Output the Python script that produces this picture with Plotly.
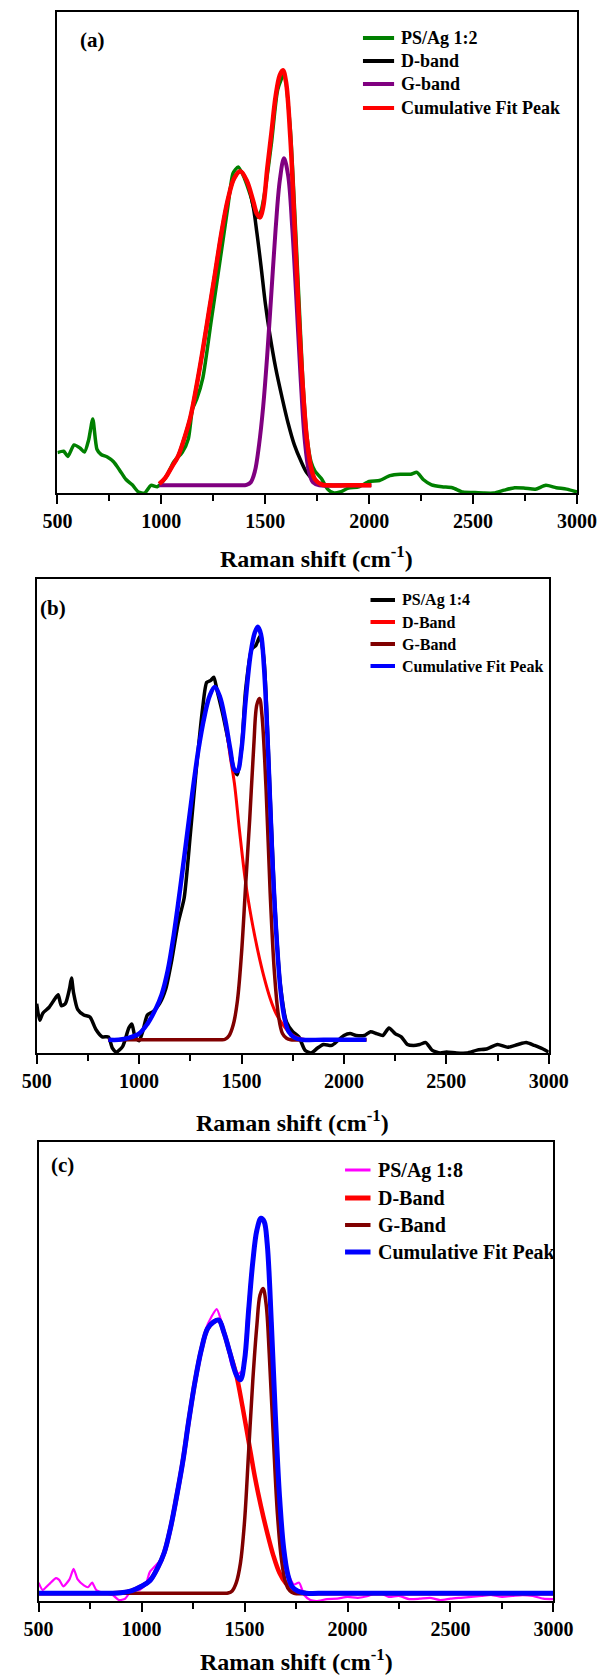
import plotly.graph_objects as go

W, H = 614, 1676
FONT = "Liberation Serif"

# ---------------- Panel (a) ----------------
a_raw_x = [500, 530, 550, 580, 610, 630, 650, 670, 690, 710, 740, 770, 800, 830, 860, 890, 920, 950, 980,
           1000, 1030, 1060, 1100, 1130, 1150, 1170, 1200, 1240, 1280, 1320, 1345, 1370, 1400, 1430, 1460,
           1480, 1500, 1530, 1560, 1590, 1620, 1640, 1660, 1680, 1700, 1720, 1740, 1770, 1800, 1830, 1860,
           1900, 1950, 2000, 2050, 2100, 2150, 2200, 2230, 2260, 2300, 2350, 2400, 2450, 2500, 2550, 2600,
           2650, 2700, 2750, 2800, 2850, 2900, 2950, 3000]
a_raw_y = [8.4, 8.7, 7.6, 10, 9.3, 8.5, 11, 15.4, 9.1, 8, 7.5, 6.5, 4.7, 2.8, 1.7, 0.2, 0, 1.6, 1.3,
           2, 3.9, 6.5, 8.4, 11.3, 17.5, 19.5, 24, 35.8, 47.6, 59.5, 66.5, 67.8, 65.4, 61.7, 57.3,
           58.7, 63.2, 72.8, 83.9, 87, 76, 60, 42, 24, 12, 6.5, 4.5, 3, 0.8, 0, 0.2,
           1, 1.3, 2.4, 2.6, 3.6, 3.9, 3.9, 4.3, 2.8, 1.7, 1.3, 1.1, 0.2, 0.1, 0, 0,
           0.6, 1.1, 1, 0.8, 1.6, 1.1, 0.8, 0.2]

a_D_x = [990, 1020, 1050, 1080, 1110, 1140, 1170, 1200, 1230, 1260, 1290, 1320, 1350, 1380, 1410, 1440,
         1460, 1480, 1500, 1520, 1550, 1580, 1610, 1640, 1670, 1700, 1730, 1760, 1800, 1900, 2010]
a_D_y = [1.9, 3.2, 5.4, 7.6, 11.3, 15.8, 22.4, 29.9, 38, 46.1, 54.3, 61, 65.4, 66.9, 65, 60,
         54, 47, 39.5, 33.5, 26, 20, 14.5, 10, 6.8, 4.2, 2.8, 2, 1.6, 1.6, 1.6]

a_G_x = [990, 1100, 1200, 1300, 1380, 1410, 1430, 1450, 1470, 1490, 1510, 1530, 1550, 1570, 1590, 1610,
         1630, 1650, 1670, 1690, 1710, 1730, 1760, 1850, 2010]
a_G_y = [1.6, 1.6, 1.6, 1.6, 1.6, 1.7, 2.2, 4.5, 10, 18, 29, 42, 55, 65, 69.6, 66,
         55, 40, 24, 11, 4.5, 2.2, 1.6, 1.6, 1.6]

a_C_x = [990, 1020, 1050, 1080, 1110, 1140, 1170, 1200, 1230, 1260, 1290, 1320, 1350, 1380, 1410, 1440,
         1460, 1475, 1490, 1510, 1530, 1550, 1570, 1585, 1600, 1620, 1640, 1660, 1680, 1700, 1720, 1740,
         1770, 1800, 1900, 2010]
a_C_y = [1.9, 3.2, 5.4, 7.6, 11.3, 15.8, 22.4, 29.9, 38, 46.1, 54.3, 61, 65.4, 66.9, 65, 61,
         58, 57.3, 59.5, 67.6, 75, 82.5, 86.9, 87.9, 85.4, 74.3, 56.6, 38, 22.4, 11.3, 5.4, 2.8,
         1.8, 1.6, 1.6, 1.6]

# ---------------- Panel (b) ----------------
b_raw_x = [500, 515, 530, 560, 590, 605, 620, 640, 660, 670, 680, 700, 730, 760, 790, 820, 850, 870, 890,
           920, 950, 965, 980, 1000, 1020, 1040, 1070, 1100, 1130, 1160, 1190, 1220, 1250, 1280, 1310,
           1330, 1350, 1365, 1380, 1410, 1440, 1465, 1480, 1500, 1520, 1550, 1570, 1590, 1610, 1630,
           1660, 1690, 1720, 1750, 1780, 1810, 1840, 1870, 1900, 1940, 1970, 2000, 2030, 2060, 2100,
           2130, 2160, 2190, 2220, 2250, 2280, 2310, 2340, 2370, 2400, 2430, 2470, 2500, 2550, 2600,
           2650, 2700, 2750, 2800, 2850, 2890, 2930, 2970, 3000]
b_raw_y = [10.4, 6.9, 8.4, 9.6, 11.5, 12.3, 10, 10.4, 13.5, 15.8, 12.7, 9.2, 8, 7.6, 4.9, 3.4, 3.4, 1, 0.2,
           1.4, 5.3, 6.1, 3.4, 2.6, 4.9, 8, 8.8, 10.4, 13.5, 19.7, 27.3, 32.7, 46, 60.2, 72.7,
           78.2, 78.6, 79.3, 76.6, 71.2, 64.9, 59.5, 58.7, 64.1, 76.6, 85.2, 86, 87.9, 82.9, 64.9,
           33.7, 14.3, 6.5, 4.5, 3.4, 0.6, 0, 1, 1.8, 1.6, 2.6, 3.7, 4.1, 3.7, 3.7,
           4.5, 4.1, 3.7, 5.3, 4.1, 3.4, 1.8, 1.6, 1.8, 2.2, 0.6, 0, 0.2, 0, 0,
           0.6, 0.9, 1.8, 1.2, 1.8, 2.2, 1.6, 0.9, 0.2]

b_D_x = [850, 900, 950, 1000, 1040, 1080, 1110, 1140, 1170, 1200, 1230, 1260, 1290, 1320, 1345, 1370,
         1395, 1420, 1445, 1465, 1490, 1520, 1550, 1580, 1610, 1640, 1670, 1700, 1730, 1760, 1800, 1900, 2110]
b_D_y = [2.8, 2.8, 3.2, 4.1, 6.1, 9.2, 12.3, 17.4, 25.1, 34.5, 44.6, 54.8, 64.1, 71.2, 75.4, 77.2,
         75.1, 70, 62.5, 57, 47, 36, 28, 21.5, 16, 11.5, 8.2, 6.1, 4.5, 3.5, 2.9, 2.8, 2.8]

b_G_x = [850, 1000, 1200, 1350, 1400, 1420, 1440, 1460, 1480, 1500, 1520, 1540, 1560, 1575, 1588, 1600,
         1620, 1640, 1660, 1680, 1700, 1720, 1740, 1900, 2110]
b_G_y = [2.8, 2.8, 2.8, 2.8, 2.8, 2.9, 3.7, 6, 11, 21, 35.3, 49.3, 64.9, 73.5, 74.8, 71.2,
         55.6, 33.7, 17.4, 8, 4.1, 3.1, 2.8, 2.8, 2.8]

b_C_x = [850, 900, 950, 1000, 1040, 1080, 1110, 1140, 1170, 1200, 1230, 1260, 1290, 1320, 1345, 1370,
         1395, 1420, 1445, 1465, 1480, 1500, 1520, 1545, 1565, 1580, 1595, 1610, 1630, 1650, 1670, 1690,
         1710, 1730, 1760, 1800, 1900, 2110]
b_C_y = [2.8, 2.8, 3.2, 4.1, 6.1, 9.2, 12.3, 17.4, 25.1, 34.5, 44.6, 54.8, 64.1, 71.2, 75.4, 77.2,
         75.1, 70.4, 64.1, 59.8, 59.5, 64.1, 74.3, 84.4, 88.7, 89.9, 88.3, 81.3, 63.4, 41.6, 25.1, 13.5,
         7.3, 4.5, 3.2, 2.8, 2.8, 2.8]

# ---------------- Panel (c) ----------------
c_raw_x = [500, 520, 550, 585, 600, 620, 650, 670, 690, 720, 740, 760, 780, 820, 860, 890, 920, 950, 990,
           1020, 1040, 1070, 1100, 1130, 1160, 1190, 1220, 1250, 1280, 1310, 1340, 1365, 1385, 1410, 1440,
           1465, 1490, 1510, 1530, 1555, 1575, 1590, 1605, 1625, 1650, 1670, 1690, 1710, 1740, 1765, 1790,
           1820, 1850, 1900, 1950, 2000, 2050, 2100, 2150, 2200, 2250, 2300, 2350, 2400, 2450, 2500, 2550,
           2600, 2650, 2700, 2750, 2800, 2850, 2900, 2950, 3000]
c_raw_y = [4, 2.4, 3.6, 5, 4.6, 3.2, 4.7, 7, 4.7, 3.4, 3, 4, 2.4, 1.7, 1.3, 0.2, 0.5, 2.2, 2.4,
           3.6, 6.3, 7.8, 9.3, 14.3, 20.4, 27.3, 35.7, 44.9, 52.5, 59, 62, 63.6, 61.3, 57, 51,
           49.5, 50.2, 60.2, 70.8, 80, 82.7, 83.1, 79.4, 63.4, 38.3, 21.5, 11.5, 6.2, 3.6, 4, 1.3,
           0.2, 0, 0.4, 0.5, 0.9, 0.7, 1.1, 1.9, 0.9, 1.1, 0.4, 0.5, 0.7, 0.2, 0.5, 0.7,
           0.9, 1.1, 1.3, 0.9, 1.1, 1.3, 1.1, 0.5, 0.4]

c_D_x = [500, 700, 850, 900, 950, 1000, 1040, 1080, 1110, 1140, 1170, 1200, 1230, 1260, 1290, 1320,
         1350, 1375, 1400, 1430, 1460, 1490, 1520, 1550, 1580, 1610, 1640, 1670, 1700, 1730, 1760,
         1800, 1900, 2200, 2600, 3000]
c_D_y = [1.7, 1.7, 1.7, 1.8, 2.2, 3.2, 4.4, 7.4, 10.5, 15.8, 22.7, 30.3, 39.5, 47.9, 54.7, 59.3,
         60.8, 61.2, 58.5, 53.9, 49.3, 42.4, 34.8, 27.1, 20.6, 14.9, 9.9, 6.1, 3.9, 2.7, 2.1,
         1.7, 1.7, 1.7, 1.7, 1.7]

c_G_x = [500, 900, 1200, 1350, 1400, 1420, 1440, 1460, 1480, 1500, 1520, 1540, 1560, 1575, 1590, 1605,
         1620, 1640, 1660, 1680, 1700, 1720, 1740, 1850, 2200, 2600, 3000]
c_G_y = [1.7, 1.7, 1.7, 1.7, 1.7, 1.75, 2.2, 4, 8.2, 17.3, 32.6, 47.9, 60.1, 66.6, 68.1, 64.6,
         53.9, 35.6, 18.8, 8.8, 3.9, 2.2, 1.7, 1.7, 1.7, 1.7, 1.7]

c_C_x = [500, 700, 850, 900, 950, 1000, 1040, 1080, 1110, 1140, 1170, 1200, 1230, 1260, 1290, 1320,
         1350, 1375, 1400, 1430, 1460, 1480, 1500, 1520, 1540, 1560, 1580, 1595, 1610, 1630, 1650, 1670,
         1690, 1710, 1730, 1760, 1800, 1900, 2200, 2600, 3000]
c_C_y = [1.7, 1.7, 1.7, 1.8, 2.2, 3.2, 4.4, 7.4, 10.5, 15.8, 22.7, 30.3, 39.5, 47.9, 54.7, 59.3,
         60.8, 61.2, 58.5, 53.9, 49.3, 48.2, 52.4, 63.4, 73.8, 80.8, 83.4, 82.7, 77.9, 60.8, 40.2, 22.7,
         11.5, 5.8, 3.2, 2.1, 1.7, 1.7, 1.7, 1.7, 1.7]

x_range = [500, 3000]
y_range = [0, 100]
x_tick_vals = [500, 1000, 1500, 2000, 2500, 3000]
x_tick_text = ["500", "1000", "1500", "2000", "2500", "3000"]
x_title = "Raman shift (cm<sup>-1</sup>)"


def px_x(p):
    return p / W


def px_y(p):
    return 1 - p / H


panels = [
    dict(box=(45, 596, 12, 493), label="(a)", label_pos=(82, 40), title_pos=(320, 557),
         legend=dict(x0=369, x1=402, tx=407, rows=[38, 61, 84, 108], size=18),
         traces=[("PS/Ag 1:2", a_raw_x, a_raw_y, "#008000", 3.5, 0.6, 4),
                 ("D-band", a_D_x, a_D_y, "#000000", 3.5, 1.0, 4),
                 ("G-band", a_G_x, a_G_y, "#800080", 4, 1.0, 4),
                 ("Cumulative Fit Peak", a_C_x, a_C_y, "#FF0000", 4.5, 1.0, 4)]),
    dict(box=(23, 566, 579, 1053), label="(b)", label_pos=(40, 608), title_pos=(294, 1121),
         legend=dict(x0=377, x1=403, tx=408, rows=[600, 622, 644, 666], size=16),
         traces=[("PS/Ag 1:4", b_raw_x, b_raw_y, "#000000", 3.5, 0.6, 4),
                 ("D-Band", b_D_x, b_D_y, "#FF0000", 3, 1.0, 4),
                 ("G-Band", b_G_x, b_G_y, "#800000", 3.5, 1.0, 4),
                 ("Cumulative Fit Peak", b_C_x, b_C_y, "#0000FF", 4.5, 1.0, 4)]),
    dict(box=(25, 571, 1142, 1601), label="(c)", label_pos=(50, 1165), title_pos=(298, 1660),
         legend=dict(x0=350, x1=377, tx=383, rows=[1170, 1198, 1225, 1252], size=20),
         traces=[("PS/Ag 1:8", c_raw_x, c_raw_y, "#FF00FF", 2.2, 0.6, 3),
                 ("D-Band", c_D_x, c_D_y, "#FF0000", 4.5, 1.0, 5),
                 ("G-Band", c_G_x, c_G_y, "#800000", 3.5, 1.0, 4),
                 ("Cumulative Fit Peak", c_C_x, c_C_y, "#0000FF", 5, 1.0, 5)]),
]

fig = go.Figure()
layout = dict(width=W, height=H, margin=dict(l=0, r=0, t=0, b=0),
              paper_bgcolor="white", plot_bgcolor="white", showlegend=False,
              font=dict(family=FONT, color="black"))
annotations = []
shapes = []

for i, p in enumerate(panels):
    n = "" if i == 0 else str(i + 1)
    xa, ya = "x" + n, "y" + n
    for (nm, xs, ys, col, lw, sm, _) in p["traces"]:
        fig.add_trace(go.Scatter(x=xs, y=ys, mode="lines", name=nm, xaxis=xa, yaxis=ya,
                                 line=dict(color=col, width=lw, shape="spline", smoothing=sm)))
    x0, x1, y0, y1 = p["box"]
    layout["xaxis" + n] = dict(domain=[px_x(x0), px_x(x1)], range=x_range, anchor=ya,
                               tickvals=x_tick_vals, ticktext=x_tick_text, ticks="outside",
                               ticklen=9, tickwidth=1.5, tickcolor="black",
                               minor=dict(dtick=250, tick0=500, ticks="outside", ticklen=6,
                                          tickwidth=1.5, tickcolor="black"),
                               showline=True, linecolor="black", linewidth=1.5, mirror=True,
                               showgrid=False, zeroline=False,
                               tickfont=dict(family=FONT, size=20, color="black", weight="bold"))
    layout["yaxis" + n] = dict(domain=[px_y(y1), px_y(y0)], range=y_range, anchor=xa,
                               showticklabels=False, ticks="", showline=True, linecolor="black",
                               linewidth=1.5, mirror=True, showgrid=False, zeroline=False)
    # legend: line samples + bold labels
    lg = p["legend"]
    for (nm, xs, ys, col, lw, sm, lsw), ry in zip(p["traces"], lg["rows"]):
        shapes.append(dict(type="line", xref="paper", yref="paper",
                           x0=px_x(lg["x0"]), x1=px_x(lg["x1"]), y0=px_y(ry), y1=px_y(ry),
                           line=dict(color=col, width=lsw)))
        annotations.append(dict(text=nm, x=px_x(lg["tx"]), y=px_y(ry), xref="paper", yref="paper",
                                showarrow=False, xanchor="left", yanchor="middle",
                                font=dict(family=FONT, size=lg["size"], color="black", weight="bold")))
    lx, ly = p["label_pos"]
    annotations.append(dict(text=p["label"], x=px_x(lx), y=px_y(ly), xref="paper", yref="paper",
                            showarrow=False, xanchor="center", yanchor="middle",
                            font=dict(family=FONT, size=21, color="black", weight="bold")))
    tx, ty = p["title_pos"]
    annotations.append(dict(text=x_title, x=px_x(tx), y=px_y(ty), xref="paper", yref="paper",
                            showarrow=False, xanchor="center", yanchor="middle",
                            font=dict(family=FONT, size=24, color="black", weight="bold")))

layout["annotations"] = annotations
layout["shapes"] = shapes
fig.update_layout(**layout)
fig.write_html("out.html")
